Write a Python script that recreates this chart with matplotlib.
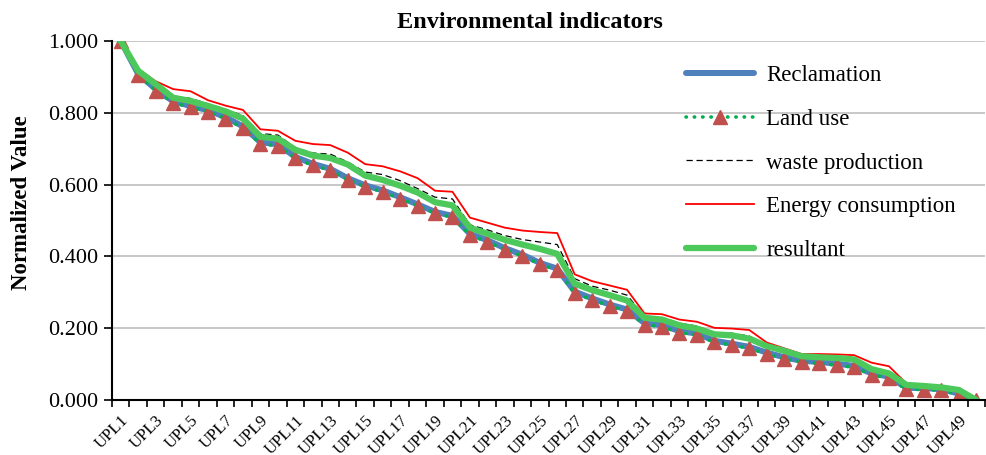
import numpy as np
import matplotlib
matplotlib.use("Agg")
import matplotlib.pyplot as plt

plt.rcParams["font.family"] = ["Liberation Serif", "DejaVu Serif"]

labels = ["UPL%d" % i for i in range(1, 51)]

reclamation = [1.000, 0.908, 0.866, 0.832, 0.819, 0.807, 0.788, 0.762, 0.718, 0.712,
               0.677, 0.658, 0.644, 0.618, 0.598, 0.584, 0.565, 0.545, 0.524, 0.513,
               0.463, 0.445, 0.423, 0.405, 0.382, 0.366, 0.302, 0.283, 0.266, 0.252,
               0.214, 0.208, 0.192, 0.185, 0.165, 0.157, 0.148, 0.132, 0.119, 0.109,
               0.106, 0.101, 0.095, 0.074, 0.065, 0.034, 0.033, 0.030, 0.018, 0.000]

land_use = [1.000, 0.905, 0.862, 0.828, 0.815, 0.803, 0.784, 0.758, 0.714, 0.708,
            0.673, 0.654, 0.640, 0.614, 0.594, 0.580, 0.561, 0.541, 0.520, 0.509,
            0.459, 0.441, 0.419, 0.401, 0.378, 0.362, 0.298, 0.279, 0.262, 0.248,
            0.210, 0.204, 0.188, 0.181, 0.161, 0.153, 0.144, 0.128, 0.115, 0.105,
            0.102, 0.097, 0.091, 0.070, 0.061, 0.030, 0.029, 0.027, 0.015, 0.000]

waste = [1.000, 0.920, 0.882, 0.847, 0.840, 0.825, 0.810, 0.792, 0.742, 0.738,
         0.703, 0.688, 0.685, 0.663, 0.635, 0.628, 0.611, 0.589, 0.565, 0.560,
         0.488, 0.474, 0.458, 0.447, 0.440, 0.433, 0.338, 0.317, 0.306, 0.292,
         0.234, 0.230, 0.214, 0.206, 0.188, 0.186, 0.178, 0.154, 0.140, 0.125,
         0.122, 0.120, 0.117, 0.090, 0.079, 0.043, 0.040, 0.036, 0.029, 0.000]

energy = [1.000, 0.922, 0.888, 0.866, 0.860, 0.835, 0.820, 0.808, 0.754, 0.750,
          0.722, 0.713, 0.710, 0.689, 0.657, 0.651, 0.637, 0.618, 0.583, 0.580,
          0.508, 0.494, 0.480, 0.472, 0.468, 0.465, 0.350, 0.331, 0.319, 0.307,
          0.241, 0.239, 0.224, 0.218, 0.201, 0.199, 0.195, 0.160, 0.144, 0.128,
          0.128, 0.127, 0.125, 0.104, 0.094, 0.046, 0.043, 0.038, 0.030, 0.000]

resultant = [1.000, 0.917, 0.880, 0.842, 0.833, 0.819, 0.804, 0.784, 0.733, 0.728,
             0.697, 0.681, 0.674, 0.656, 0.625, 0.613, 0.597, 0.578, 0.551, 0.542,
             0.480, 0.463, 0.446, 0.433, 0.421, 0.407, 0.324, 0.306, 0.292, 0.277,
             0.229, 0.224, 0.208, 0.199, 0.183, 0.180, 0.171, 0.150, 0.137, 0.122,
             0.119, 0.117, 0.113, 0.086, 0.074, 0.042, 0.039, 0.035, 0.028, 0.000]

x = np.arange(len(labels))

fig = plt.figure(figsize=(9.87, 4.55), dpi=100)
ax = fig.add_axes([112 / 987, 55 / 455, 873 / 987, 359 / 455])

ax.plot(x, reclamation, color="#4F81BD", lw=4.3, solid_capstyle="round", label="Reclamation")
ax.plot(x, land_use, color="#00B050", lw=2.6, linestyle=(0, (0.1, 2.2)), dash_capstyle="round",
        marker="^", markersize=10, markerfacecolor="#C0504D", markeredgecolor="#C0504D",
        label="Land use")
ax.plot(x, waste, color="black", lw=0.9, linestyle=(0, (5, 3)), label="waste production")
ax.plot(x, energy, color="#FF0000", lw=1.3, label="Energy consumption")
ax.plot(x, resultant, color="#4CC95A", lw=4.5, solid_capstyle="round", label="resultant")

ax.set_xlim(-0.5, len(labels) - 0.5)
ax.set_ylim(0, 1)
ax.set_yticks(np.arange(0, 1.01, 0.2))
ax.set_yticklabels(["%.3f" % v for v in np.arange(0, 1.01, 0.2)], fontsize=16)
ax.yaxis.grid(True, color="#BFBFBF", lw=1.2)
ax.set_axisbelow(True)

ax.set_xticks(x[::2])
ax.set_xticklabels(labels[::2], rotation=45, ha="right", va="top",
                   rotation_mode="anchor", fontsize=12)
ax.set_xticks(np.arange(-0.5, len(labels), 1), minor=True)
ax.tick_params(axis="x", which="major", length=0, pad=9)
ax.tick_params(axis="x", which="minor", length=5, width=1.2, direction="out")
ax.tick_params(axis="y", length=6, width=1.2, direction="out", pad=4)

for s in ["top", "right"]:
    ax.spines[s].set_visible(False)
for s in ["left", "bottom"]:
    ax.spines[s].set_linewidth(1.5)

# title and axis label sit relative to the whole chart area
fig.text(22 / 987, 1 - 203 / 455, "Normalized Value", fontsize=16.5, fontweight="bold",
         rotation=90, ha="center", va="center")
fig.text(530 / 987, 1 - 22 / 455, "Environmental indicators", fontsize=17.5,
         fontweight="bold", ha="center", va="center")

ax.legend(loc="upper left", bbox_to_anchor=(686 / 987, 1 - 65 / 455),
          bbox_transform=fig.transFigure, frameon=False, fontsize=16.5,
          handlelength=2.95, handletextpad=0.55, labelspacing=0.99,
          borderpad=0, borderaxespad=0)

fig.savefig("out.png", dpi=100)
